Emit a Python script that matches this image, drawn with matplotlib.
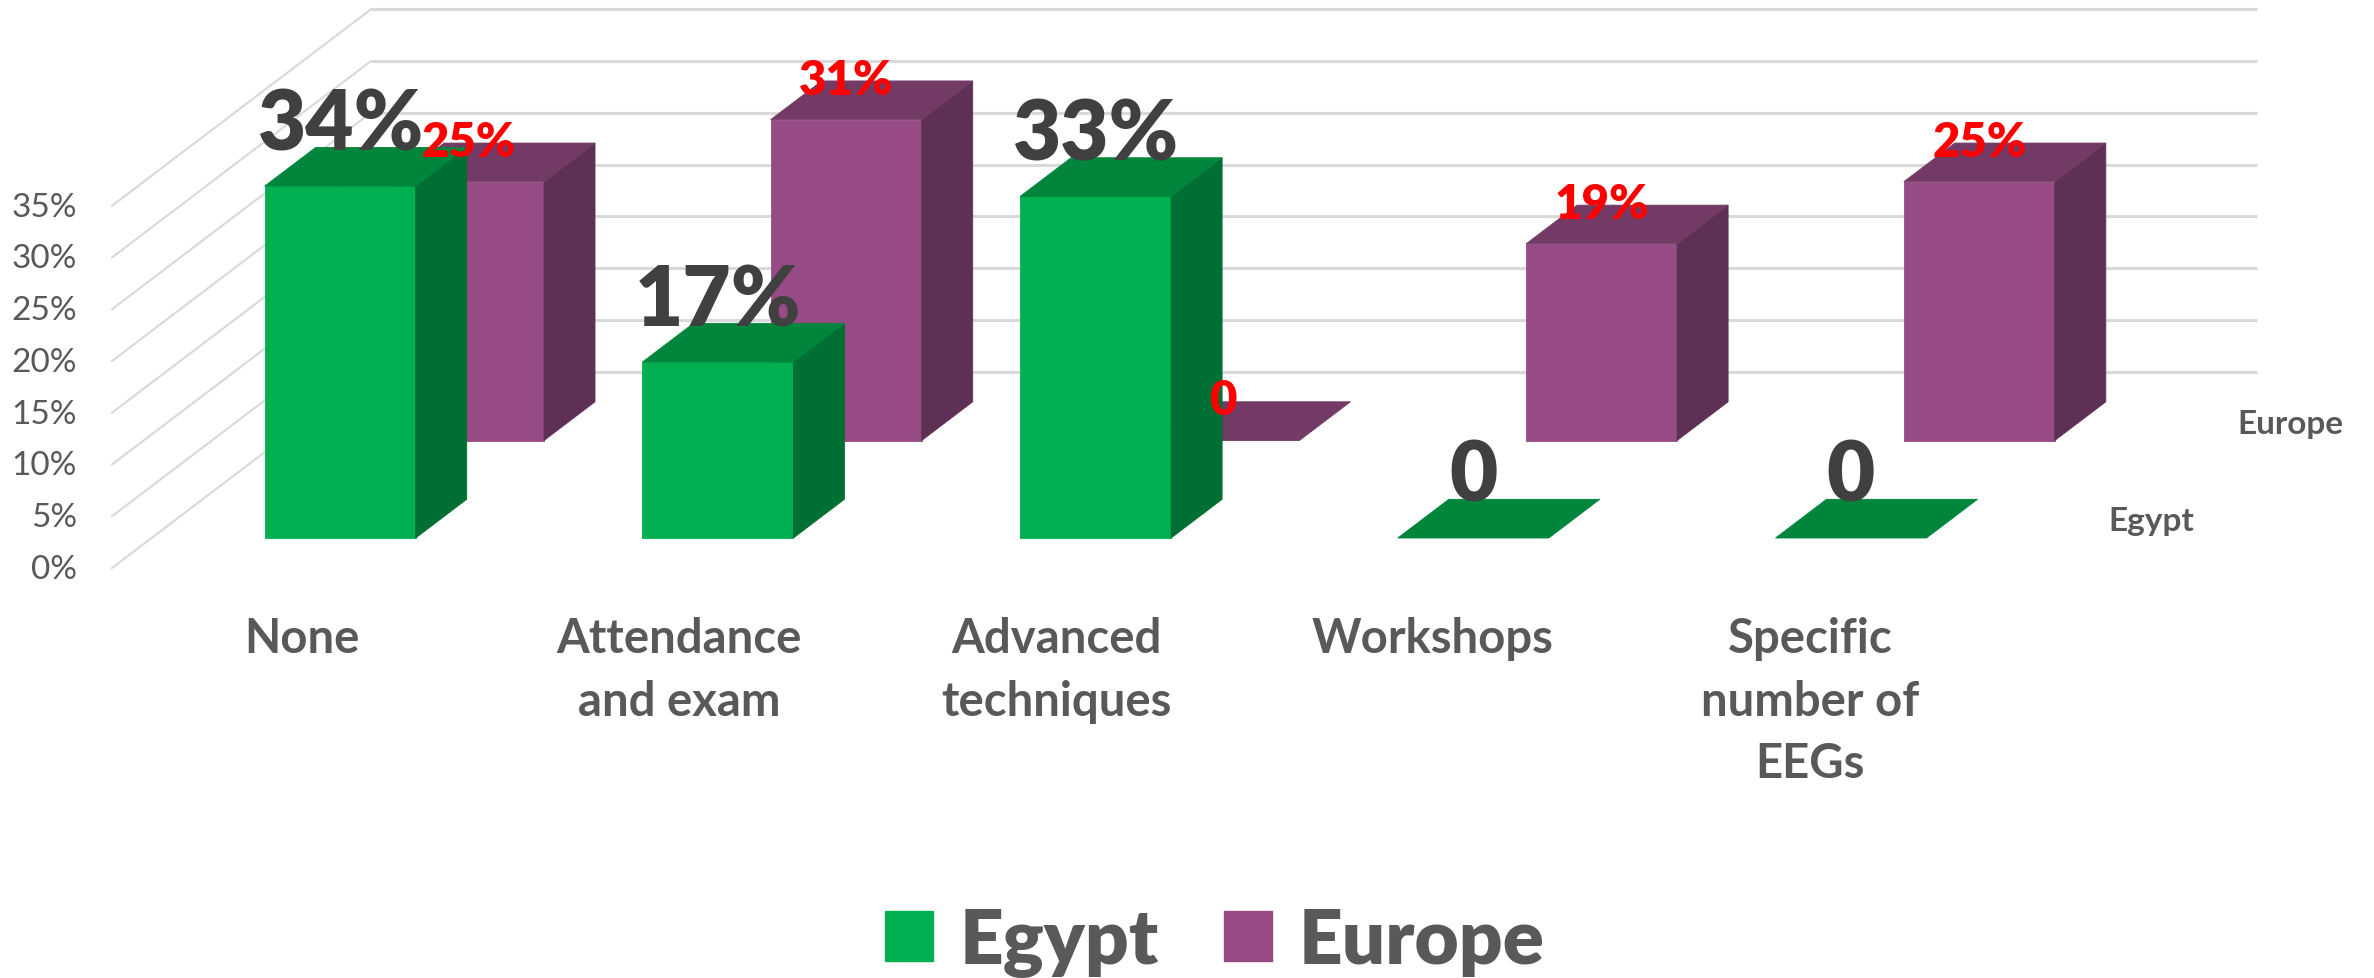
"""Egypt vs Europe clustered bars, drawn as a PowerPoint-style 3D column chart."""

import matplotlib
matplotlib.use("Agg")
import matplotlib.pyplot as plt
from matplotlib.patches import Patch

CATEGORIES = ["None", "Attendance\nand exam", "Advanced\ntechniques",
              "Workshops", "Specific\nnumber of\nEEGs"]
EGYPT = [34, 17, 33, 0, 0]
EUROPE = [25, 31, 0, 19, 25]
EGYPT_LABELS = ["34%", "17%", "33%", "0", "0"]
EUROPE_LABELS = ["25%", "31%", "0", "19%", "25%"]
TICKS = [0, 5, 10, 15, 20, 25, 30, 35]

W, H = 2374, 979
FONT = ["Lato", "DejaVu Sans"]
GREY = "#595959"

# chart geometry, in pixels of the output image
PX_PER_PCT = 10.35
FLOOR_BACK = 372.5
FLOOR_FRONT = 569
LEFT_FRONT = 112
LEFT_BACK = 371
RIGHT_BACK = 2257
STEP = 377.7
BAR_W = 151
DEPTH_X, DEPTH_Y = 51, 38.7
EGYPT_X, EGYPT_BASE = 264.7, 539
EUROPE_X, EUROPE_BASE = 393, 441.5


def val_y(v, floor):
    return floor - v * PX_PER_PCT


def draw_bar(ax, x0, base, v, colors, z):
    front, top, side = colors
    x1 = x0 + BAR_W
    y_top = val_y(v, base)
    if v > 0:
        ax.fill([x0, x1, x1, x0], [base, base, y_top, y_top],
                color=front, lw=0.6, zorder=z)
        ax.fill([x1, x1 + DEPTH_X, x1 + DEPTH_X, x1],
                [base, base - DEPTH_Y, y_top - DEPTH_Y, y_top],
                color=side, lw=0.6, zorder=z)
    ax.fill([x0, x1, x1 + DEPTH_X, x0 + DEPTH_X],
            [y_top, y_top, y_top - DEPTH_Y, y_top - DEPTH_Y],
            color=top, lw=0.6, zorder=z)


plt.rcParams["font.family"] = FONT
fig = plt.figure(figsize=(W / 100, H / 100), dpi=100, facecolor="white")
ax = fig.add_axes([0, 0, 1, 1])
ax.set_xlim(0, W)
ax.set_ylim(H, 0)
ax.axis("off")

# walls
for t in TICKS:
    yb = val_y(t, FLOOR_BACK)
    yf = val_y(t, FLOOR_FRONT)
    ax.plot([LEFT_BACK, RIGHT_BACK], [yb, yb], color="#d9d9d9", lw=2.2, zorder=1,
            solid_capstyle="butt")
    ax.plot([LEFT_FRONT, LEFT_BACK], [yf, yb], color="#d9d9d9", lw=1.5, zorder=1)
    ax.text(77, yf + 1, f"{t}%", ha="right", va="center", fontsize=24, color=GREY)

# Europe row sits behind Egypt
for i, v in enumerate(EUROPE):
    draw_bar(ax, EUROPE_X + STEP * i, EUROPE_BASE, v,
             ("#964B84", "#733A66", "#5F3055"), 2 + i * 0.1)
for i, v in enumerate(EGYPT):
    draw_bar(ax, EGYPT_X + STEP * i, EGYPT_BASE, v,
             ("#00B050", "#00853C", "#006F33"), 3 + i * 0.1)

for i, v in enumerate(EUROPE):
    ax.text(EUROPE_X + STEP * i + BAR_W / 2, val_y(v, EUROPE_BASE) - 26, EUROPE_LABELS[i],
            ha="center", va="baseline", fontsize=34, fontweight="heavy",
            color="#ff0000", zorder=6)
for i, v in enumerate(EGYPT):
    ax.text(EGYPT_X + STEP * i + BAR_W / 2, val_y(v, EGYPT_BASE) - 37, EGYPT_LABELS[i],
            ha="center", va="baseline", fontsize=60, fontweight="heavy",
            color="#404040", zorder=6)

for i, cat in enumerate(CATEGORIES):
    ax.text(302 + 377 * i, 617, cat, ha="center", va="top", fontsize=34,
            fontweight="bold", color=GREY, linespacing=1.52)

# series names on the depth axis
ax.text(2237, 434, "Europe", ha="left", va="baseline", fontsize=24,
        fontweight="bold", color=GREY)
ax.text(2108, 531, "Egypt", ha="left", va="baseline", fontsize=24,
        fontweight="bold", color=GREY)

handles = [Patch(color="#00B050", label="Egypt"), Patch(color="#964B84", label="Europe")]
ax.legend(handles=handles, loc="lower center", bbox_to_anchor=(1215 / W, -0.046), ncol=2,
          frameon=False, prop={"family": FONT, "size": 55, "weight": "heavy"},
          labelcolor=GREY, handlelength=0.63, handleheight=0.63,
          handletextpad=0.35, columnspacing=0.85, borderpad=0.1)

fig.savefig("out.png", dpi=100, facecolor="white")
